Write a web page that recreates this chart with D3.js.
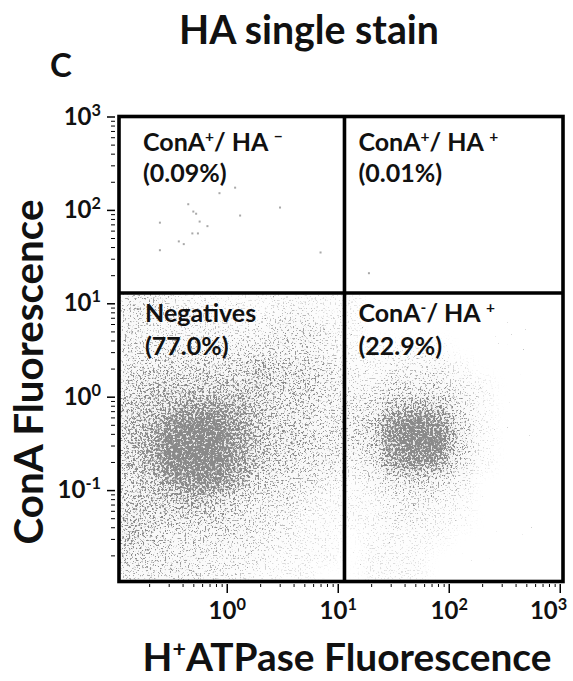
<!DOCTYPE html>
<html><head><meta charset="utf-8">
<script src="https://cdn.jsdelivr.net/npm/d3@7"></script>
<style>
body{margin:0;background:#fff}
svg{display:block}
text{font-family:Lato,"Open Sans",sans-serif;font-weight:700;fill:#111}
</style>
</head><body>
<svg id="chart" width="573" height="681"></svg>
<script>
// ---------------- data ----------------
const titleText = "HA single stain";
const panelLetter = "C";
const xAxisTitle = ["H", "+", "ATPase Fluorescence"];
const yAxisTitle = "ConA Fluorescence";

const xDomain = [0.107, 1070];
const yDomain = [0.0105, 1000];
const xTickValues = [1, 10, 100, 1000];
const yTickValues = [0.1, 1, 10, 100, 1000];

// quadrant gates (H+ATPase, ConA)
const xGate = 11.5;
const yGate = 12.9;

// quadrant labels: [name, sup1, middle, sup2], percent
const quadNames = [
  ["ConA", "+", "/ HA ", "\u2212"],
  ["ConA", "+", "/ HA ", "+"],
  ["Negatives", "", "", ""],
  ["ConA", "-", "/ HA ", "+"]
];
const quadPercents = ["0.09", "0.01", "77.0", "22.9"];

// density grid (0 = empty, 9 = solid core)
// column edges as log10(H+ATPase), row edges as log10(ConA), rows listed top to bottom
const densityColEdges = [-1.0,-0.8,-0.6,-0.4,-0.2,0.0,0.2,0.4,0.6,0.8,1.0,1.2,1.4,1.6,1.8,2.0,2.2,2.4,2.6,2.8,3.0];
const densityRowEdges = [1.2,1.0,0.8,0.6,0.4,0.2,0.0,-0.2,-0.4,-0.6,-0.8,-1.0,-1.2,-1.4,-1.6,-1.8,-2.0];
const densityRows = [
  [3,3,2,1,1,1,1,1,1,1, 1,0,0,0,0,0,0,0,0,0],
  [3,3,2,2,1,1,1,2,2,1, 1,0,0,0,0,0,0,0,0,0],
  [3,2,2,2,2,2,2,3,3,2, 1,0,0,0,0,0,0,0,0,0],
  [3,3,3,3,3,3,3,3,3,2, 1,1,1,1,1,0,0,0,0,0],
  [3,4,4,4,4,4,5,4,4,3, 2,1,2,2,2,1,0,0,0,0],
  [4,5,5,5,5,5,5,4,4,3, 2,2,3,3,3,2,1,0,0,0],
  [5,5,6,7,7,6,5,4,4,3, 3,3,5,6,5,3,1,0,0,0],
  [5,6,8,9,9,7,5,4,4,3, 3,4,8,9,8,4,1,0,0,0],
  [5,6,9,9,9,7,5,4,4,3, 3,4,8,9,9,4,1,0,0,0],
  [5,6,9,9,9,7,5,4,3,3, 2,3,7,8,7,3,1,0,0,0],
  [4,5,7,8,8,6,4,3,3,2, 1,2,3,4,3,2,0,0,0,0],
  [4,5,5,6,5,4,3,3,2,1, 1,1,2,2,2,1,0,0,0,0],
  [5,4,4,4,4,3,3,2,1,1, 1,1,2,2,1,1,0,0,0,0],
  [5,4,3,3,3,3,2,2,1,1, 0,1,1,1,1,0,0,0,0,0],
  [4,3,3,3,2,2,2,1,1,1, 0,1,1,1,0,0,0,0,0,0],
  [3,3,3,3,2,2,1,1,1,0, 0,1,1,1,0,0,0,0,0,0]
];

// sparse events in the upper quadrants
const sparseX = [1.19,0.86,0.45,3.02,0.50,0.53,1.32,0.25,0.57,0.67,0.49,0.55,0.37,0.41,0.25,7.0,19.1];
const sparseY = [173,151,115,106,96,91,87,73,75,67,56,56,46,43,37,35,21];

// ---------------- drawing ----------------
const svg = d3.select("#chart");
const x = d3.scaleLog().domain(xDomain).range([119, 563]);
const y = d3.scaleLog().domain(yDomain).range([581.5, 116.5]);

const defs = svg.append("defs");
const f = defs.append("filter").attr("id","speckle")
  .attr("x","-10%").attr("y","-10%").attr("width","120%").attr("height","120%")
  .attr("color-interpolation-filters","sRGB");
f.append("feGaussianBlur").attr("in","SourceAlpha").attr("stdDeviation", 7).attr("result","soft");
f.append("feFlood").attr("flood-color","#8a8a8a").attr("result","gray");
// faint wash under the dots
f.append("feComponentTransfer").attr("in","soft").attr("result","washA")
  .append("feFuncA").attr("type","linear").attr("slope", 0.15);
f.append("feComposite").attr("in","gray").attr("in2","washA").attr("operator","in").attr("result","wash");
// sparse light dots spread over the halo
f.append("feTurbulence").attr("type","fractalNoise").attr("baseFrequency", 0.6)
  .attr("numOctaves", 1).attr("seed", 11).attr("result","noise2");
f.append("feColorMatrix").attr("in","noise2").attr("type","matrix")
  .attr("values","0 0 0 0 0  0 0 0 0 0  0 0 0 0 0  1 0 0 0 0").attr("result","nb");
f.append("feComponentTransfer").attr("in","nb").attr("result","spB")
  .append("feFuncA").attr("type","linear").attr("slope", 12).attr("intercept", -7.2);
f.append("feComposite").attr("in","spB").attr("in2","soft").attr("operator","arithmetic")
  .attr("k1", 2.4).attr("k2",0).attr("k3",0).attr("k4",0).attr("result","spM");
f.append("feComposite").attr("in","gray").attr("in2","spM").attr("operator","in").attr("result","sparseDots");
// dense speckle
f.append("feTurbulence").attr("type","fractalNoise").attr("baseFrequency", 0.45)
  .attr("numOctaves", 2).attr("seed", 4).attr("result","noise");
f.append("feColorMatrix").attr("in","noise").attr("type","matrix")
  .attr("values","0 0 0 0 0  0 0 0 0 0  0 0 0 0 0  1 0 0 0 0").attr("result","na");
f.append("feComposite").attr("in","soft").attr("in2","na").attr("operator","arithmetic")
  .attr("k1",0).attr("k2",3.6).attr("k3",7).attr("k4",-5.75).attr("result","thr");
f.append("feComposite").attr("in","gray").attr("in2","thr").attr("operator","in").attr("result","dots");
const mg = f.append("feMerge");
mg.append("feMergeNode").attr("in","wash");
mg.append("feMergeNode").attr("in","sparseDots");
mg.append("feMergeNode").attr("in","dots");

defs.append("clipPath").attr("id","lowerClip")
  .append("rect")
  .attr("x", x(xDomain[0])).attr("y", y(yGate))
  .attr("width", x(xDomain[1]) - x(xDomain[0]))
  .attr("height", y(yDomain[0]) - y(yGate));

// density cells
const cells = [];
densityRows.forEach((row, ri) => {
  row.forEach((d, ci) => {
    if (d > 0) cells.push({
      x0: Math.pow(10, densityColEdges[ci]), x1: Math.pow(10, densityColEdges[ci+1]),
      yTop: Math.pow(10, densityRowEdges[ri]), yBot: Math.pow(10, densityRowEdges[ri+1]), d
    });
  });
});
const dens = svg.append("g").attr("clip-path","url(#lowerClip)")
  .append("g").attr("filter","url(#speckle)");
dens.selectAll("rect").data(cells).join("rect")
  .attr("x", d => x(d.x0)).attr("width", d => x(d.x1) - x(d.x0) + 0.5)
  .attr("y", d => y(d.yTop)).attr("height", d => y(d.yBot) - y(d.yTop) + 0.5)
  .attr("fill", "#000").attr("fill-opacity", d => d.d / 9);

// sparse points
svg.append("g").selectAll("rect").data(sparseX.map((v,i)=>[v, sparseY[i]])).join("rect")
  .attr("x", d => x(d[0]) - 1).attr("y", d => y(d[1]) - 1)
  .attr("width", 2).attr("height", 2).attr("fill", "#a8a8a8");

// axes
const supFormat = (sel) => {
  sel.each(function(v){
    const t = d3.select(this);
    t.text(null);
    t.append("tspan").text("10");
    t.append("tspan").attr("font-size","68%").attr("baseline-shift","super")
      .text(String(Math.round(Math.log10(v))));
  });
};
const yMinorVals = y.ticks().filter(v => !yTickValues.includes(v));
const xMinorVals = x.ticks().filter(v => !xTickValues.includes(v));

const yAxisG = svg.append("g").attr("transform","translate(115,0)");
yAxisG.append("g").call(d3.axisLeft(y).tickValues(yMinorVals).tickSize(4).tickFormat(""))
  .call(g => g.select(".domain").remove());
const yMaj = yAxisG.append("g").call(d3.axisLeft(y).tickValues(yTickValues).tickSize(8).tickPadding(6))
  .call(g => g.select(".domain").remove());
yMaj.selectAll("line").attr("stroke","#000").attr("stroke-width",1.5);
yMaj.selectAll("text").attr("font-size",24).attr("font-family",null).call(supFormat);

const xAxisG = svg.append("g").attr("transform","translate(0,584)");
xAxisG.append("g").call(d3.axisBottom(x).tickValues(xMinorVals).tickSize(3).tickFormat(""))
  .call(g => g.select(".domain").remove());
const xMaj = xAxisG.append("g").call(d3.axisBottom(x).tickValues(xTickValues).tickSize(9).tickPadding(9))
  .call(g => g.select(".domain").remove());
xMaj.selectAll("line").attr("stroke","#000").attr("stroke-width",1.5);
xMaj.selectAll("text").attr("font-size",24).attr("font-family",null).call(supFormat);
// keep the last label inside the page, as in the reference
xMaj.selectAll("text").filter(v => v === xTickValues[xTickValues.length - 1])
  .attr("text-anchor","end").attr("x", 7);
svg.selectAll(".tick text").attr("fill","#111");

// frame and gates
const frame = svg.append("g").attr("fill","none").attr("stroke","#000").attr("stroke-width",3.6);
frame.append("rect").attr("x", x(xDomain[0])).attr("y", y(yDomain[1]))
  .attr("width", x(xDomain[1]) - x(xDomain[0])).attr("height", y(yDomain[0]) - y(yDomain[1]));
frame.append("line").attr("x1", x(xGate)).attr("x2", x(xGate)).attr("y1", y(yDomain[1])).attr("y2", y(yDomain[0]));
frame.append("line").attr("x1", x(xDomain[0])).attr("x2", x(xDomain[1])).attr("y1", y(yGate)).attr("y2", y(yGate));

// quadrant labels
const quadPos = [
  [x(xDomain[0]) + 24, y(yDomain[1]) + 34],
  [x(xGate) + 14, y(yDomain[1]) + 34],
  [x(xDomain[0]) + 26, y(yGate) + 29],
  [x(xGate) + 14, y(yGate) + 29]
];
quadNames.forEach((nm, i) => {
  const [px, py] = quadPos[i];
  const t = svg.append("text").attr("x", px).attr("y", py).attr("font-size", 25);
  t.append("tspan").text(nm[0]);
  if (nm[1]) t.append("tspan").attr("font-size","62%").attr("baseline-shift","super").text(nm[1]);
  if (nm[2]) t.append("tspan").text(nm[2]);
  if (nm[3]) t.append("tspan").attr("font-size","62%").attr("baseline-shift","super").text(nm[3]);
  svg.append("text").attr("x", px).attr("y", py + (i < 2 ? 31 : 33)).attr("font-size", 25)
    .text("(" + quadPercents[i] + "%)");
});

// titles
function fit(sel, w) {
  const cur = sel.node().getComputedTextLength();
  sel.attr("font-size", parseFloat(sel.attr("font-size")) * w / cur);
  return sel;
}
fit(svg.append("text").attr("x", 309).attr("y", 44).attr("text-anchor","middle")
  .attr("font-size", 35).text(titleText), 260);
svg.append("text").attr("x", 50).attr("y", 77).attr("font-size", 33).text(panelLetter);

const xt = svg.append("text").attr("x", 347).attr("y", 671).attr("text-anchor","middle").attr("font-size", 37);
xt.append("tspan").text(xAxisTitle[0]);
xt.append("tspan").attr("font-size","60%").attr("baseline-shift","super").text(xAxisTitle[1]);
xt.append("tspan").text(xAxisTitle[2]);
fit(xt, 409);

fit(svg.append("text").attr("transform","translate(43,372) rotate(-90)").attr("text-anchor","middle")
  .attr("font-size", 37).text(yAxisTitle), 345);
</script>
</body></html>
